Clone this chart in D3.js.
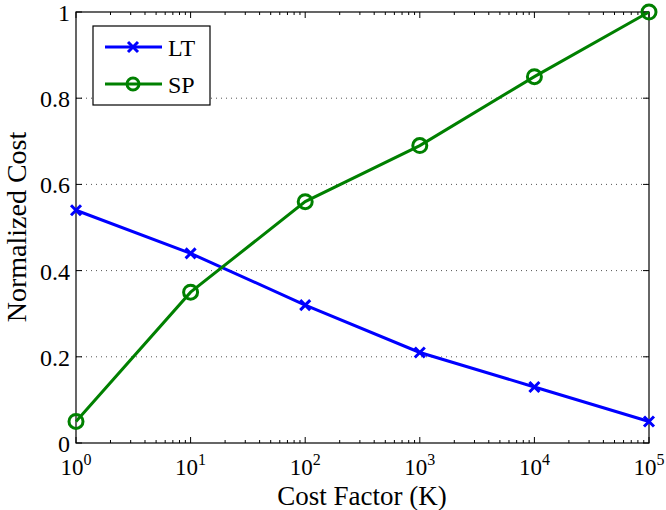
<!DOCTYPE html>
<html>
<head>
<meta charset="utf-8">
<script src="https://cdn.jsdelivr.net/npm/d3@7"></script>
<style>
  body { margin: 0; background: #fff; }
  text { font-family: "Liberation Serif", "DejaVu Serif", serif; fill: #000; }
</style>
</head>
<body>
<div id="chart"></div>
<script>
// data
const costFactor = [1, 10, 100, 1000, 10000, 100000];
const ltValues = [0.54, 0.44, 0.32, 0.21, 0.13, 0.05];
const spValues = [0.05, 0.35, 0.56, 0.69, 0.85, 1.0];
const yTicks = [0, 0.2, 0.4, 0.6, 0.8, 1];
const xExponents = [0, 1, 2, 3, 4, 5];

const w = 666, h = 510;
const margin = {top: 12, right: 17, bottom: 67, left: 76};
const svg = d3.select("#chart").append("svg").attr("width", w).attr("height", h);

const x = d3.scaleLog().domain([1, 100000]).range([margin.left, w - margin.right]);
const y = d3.scaleLinear().domain([0, 1]).range([h - margin.bottom, margin.top]);
const x0 = margin.left, x1 = w - margin.right, y0 = h - margin.bottom, y1 = margin.top;

// dotted grid (horizontal only)
svg.append("g").selectAll("line").data(yTicks.slice(1, -1)).enter().append("line")
  .attr("x1", x0).attr("x2", x1)
  .attr("y1", d => y(d)).attr("y2", d => y(d))
  .attr("stroke", "#555").attr("stroke-width", 1).attr("stroke-dasharray", "1,4");

// minor log ticks, bottom and top, pointing inward
let minor = [];
for (let e = 0; e < 5; e++) for (let m = 2; m < 10; m++) minor.push(m * Math.pow(10, e));
const tk = svg.append("g").attr("stroke", "#000").attr("stroke-width", 1);
minor.forEach(v => {
  tk.append("line").attr("x1", x(v)).attr("x2", x(v)).attr("y1", y0).attr("y2", y0 - 3);
  tk.append("line").attr("x1", x(v)).attr("x2", x(v)).attr("y1", y1).attr("y2", y1 + 3);
});
costFactor.forEach(v => {
  tk.append("line").attr("x1", x(v)).attr("x2", x(v)).attr("y1", y0).attr("y2", y0 - 6);
  tk.append("line").attr("x1", x(v)).attr("x2", x(v)).attr("y1", y1).attr("y2", y1 + 6);
});
yTicks.forEach(v => {
  tk.append("line").attr("x1", x0).attr("x2", x0 + 6).attr("y1", y(v)).attr("y2", y(v));
  tk.append("line").attr("x1", x1).attr("x2", x1 - 6).attr("y1", y(v)).attr("y2", y(v));
});

// axes box
svg.append("rect").attr("x", x0).attr("y", y1).attr("width", x1 - x0).attr("height", y0 - y1)
  .attr("fill", "none").attr("stroke", "#000").attr("stroke-width", 1.2);

// y tick labels
svg.append("g").selectAll("text").data(yTicks).enter().append("text")
  .attr("x", x0 - 6).attr("y", d => y(d) + 9)
  .attr("text-anchor", "end").attr("font-size", 24)
  .text(d => d === 0 ? "0" : d === 1 ? "1" : d.toFixed(1));

// x tick labels 10^n
const xl = svg.append("g").selectAll("text").data(xExponents).enter().append("text")
  .attr("x", d => x(Math.pow(10, d))).attr("y", y0 + 32)
  .attr("text-anchor", "middle").attr("font-size", 23);
xl.append("tspan").text("10");
xl.append("tspan").attr("dy", -10).attr("font-size", 16).text(d => d);

// axis titles
svg.append("text").attr("x", 362).attr("y", 505)
  .attr("text-anchor", "middle").attr("font-size", 27).text("Cost Factor (K)");
svg.append("text").attr("transform", "translate(26,227) rotate(-90)")
  .attr("text-anchor", "middle").attr("font-size", 28).text("Normalized Cost");

// lines
const line = d3.line().x((d, i) => x(costFactor[i])).y(d => y(d));
svg.append("path").datum(ltValues).attr("d", line)
  .attr("fill", "none").attr("stroke", "#0000ff").attr("stroke-width", 3);
svg.append("path").datum(spValues).attr("d", line)
  .attr("fill", "none").attr("stroke", "#008000").attr("stroke-width", 3);

// markers
function cross(g, cx, cy, s) {
  g.append("path").attr("d", "M" + (cx - s) + "," + (cy - s) + "L" + (cx + s) + "," + (cy + s) +
    "M" + (cx - s) + "," + (cy + s) + "L" + (cx + s) + "," + (cy - s))
    .attr("stroke", "#0000ff").attr("stroke-width", 3).attr("fill", "none");
}
const mk = svg.append("g");
ltValues.forEach((v, i) => cross(mk, x(costFactor[i]), y(v), 5));
mk.selectAll("circle").data(spValues).enter().append("circle")
  .attr("cx", (d, i) => x(costFactor[i])).attr("cy", d => y(d)).attr("r", 7)
  .attr("fill", "none").attr("stroke", "#008000").attr("stroke-width", 3);

// legend
const lg = svg.append("g");
lg.append("rect").attr("x", 93).attr("y", 26).attr("width", 117).attr("height", 79)
  .attr("fill", "#fff").attr("stroke", "#000").attr("stroke-width", 1.2);
lg.append("line").attr("x1", 105).attr("x2", 162).attr("y1", 47).attr("y2", 47)
  .attr("stroke", "#0000ff").attr("stroke-width", 3);
cross(lg, 133, 47, 5);
lg.append("line").attr("x1", 105).attr("x2", 162).attr("y1", 84).attr("y2", 84)
  .attr("stroke", "#008000").attr("stroke-width", 3);
lg.append("circle").attr("cx", 133).attr("cy", 84).attr("r", 6)
  .attr("fill", "none").attr("stroke", "#008000").attr("stroke-width", 3);
lg.append("text").attr("x", 168).attr("y", 56).attr("font-size", 24).text("LT");
lg.append("text").attr("x", 168).attr("y", 93).attr("font-size", 24).text("SP");
</script>
</body>
</html>
